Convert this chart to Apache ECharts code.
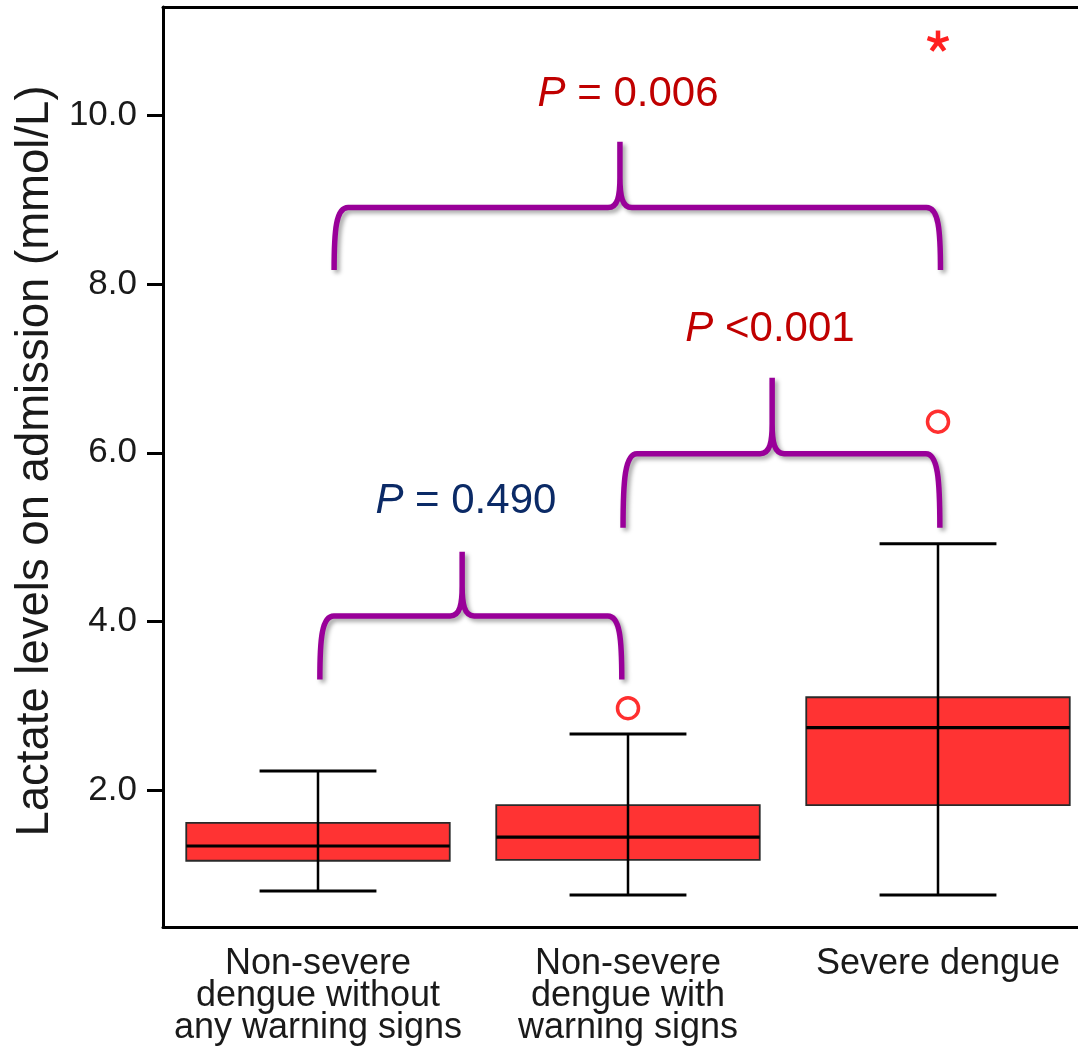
<!DOCTYPE html>
<html>
<head>
<meta charset="utf-8">
<script src="https://cdn.jsdelivr.net/npm/echarts@6/dist/echarts.min.js"></script>
<style>html,body{margin:0;padding:0;background:#fff}#c{width:1078px;height:1051px}</style>
</head>
<body>
<div id="c"></div>
<script>
// ---- data ----
const categories = ['Non-severe\ndengue without\nany warning signs', 'Non-severe\ndengue with\nwarning signs', 'Severe dengue'];
const boxLow    = [0.80, 0.754, 0.754];
const boxQ1     = [1.16, 1.17, 1.82];
const boxMedian = [1.335, 1.44, 2.74];
const boxQ3     = [1.61, 1.82, 3.10];
const boxHigh   = [2.225, 2.665, 4.92];
const outlierCat = [1, 2];
const outlierVal = [2.97, 6.37];
const extremeCat = [2];
const extremeVal = [10.88];
const yTicks = [2, 4, 6, 8, 10];
const yMin = 0.374;
const yMax = 11.29;
// brace annotations: [fromCat, toCat, peakCat, endValue, barValue, peakValue]
const braceFrom  = [0.006, 0.984, 0.052];
const braceTo    = [0.98, 2.006, 2.008];
const bracePeak  = [0.465, 1.465, 0.974];
const braceEnd   = [3.31, 5.11, 8.17];
const braceBar   = [4.065, 5.99, 8.91];
const braceTop   = [4.825, 6.89, 9.69];
// p-value labels
const pCat   = [0.477, 1.458, 1.0];
const pVal   = [5.42, 7.47, 10.25];
const pText  = [' = 0.490', ' <0.001', ' = 0.006'];
const pColor = ['#0b2a66', '#c00000', '#c00000'];

const FONT = "'Liberation Sans', Arial, Helvetica, sans-serif";

const boxData = categories.map((c, i) => [i, boxLow[i], boxQ1[i], boxMedian[i], boxQ3[i], boxHigh[i]]);
const outlierData = outlierCat.map((c, i) => [c, outlierVal[i]]);
const extremeData = extremeCat.map((c, i) => [c, extremeVal[i]]);
const braceData = braceFrom.map((f, i) => [f, braceTo[i], bracePeak[i], braceEnd[i], braceBar[i], braceTop[i]]);
const pData = pCat.map((c, i) => [c, pVal[i], i]);

function catX(api, frac, val) {
  const base = api.coord([0, val]);
  const band = api.size([1, 0])[0];
  return base[0] + frac * band;
}

const chart = echarts.init(document.getElementById('c'), null, {renderer: 'canvas'});
chart.setOption({
  backgroundColor: '#fff',
  animation: false,
  grid: {left: 163, right: -15, top: 7, bottom: 124, outerBoundsMode: 'none', containLabel: false},
  xAxis: [{
    type: 'category',
    data: categories,
    position: 'bottom',
    axisLine: {onZero: false, lineStyle: {color: '#000', width: 3}},
    axisTick: {alignWithLabel: true, length: 18, lineStyle: {color: '#000', width: 3}},
    axisLabel: {margin: 21, fontSize: 36, lineHeight: 32, color: '#1a1a1a', fontFamily: FONT, interval: 0, align: 'center'},
    splitLine: {show: false}
  }, {
    type: 'category',
    data: categories,
    position: 'top',
    axisLine: {onZero: false, lineStyle: {color: '#000', width: 3}},
    axisTick: {show: false},
    axisLabel: {show: false},
    splitLine: {show: false}
  }],
  yAxis: {
    type: 'value',
    min: yMin,
    max: yMax,
    name: 'Lactate levels on admission (mmol/L)',
    nameLocation: 'middle',
    nameGap: 99,
    nameTextStyle: {fontSize: 45.5, color: '#1a1a1a', fontFamily: FONT, padding: [0, 0, 0, 12]},
    axisLine: {show: true, onZero: false, lineStyle: {color: '#000', width: 3}},
    axisTick: {show: true, customValues: yTicks, length: 16, lineStyle: {color: '#000', width: 3}},
    axisLabel: {customValues: yTicks, margin: 26, fontSize: 35, color: '#1a1a1a', fontFamily: FONT,
      formatter: v => Number(v).toFixed(1)},
    splitLine: {show: false}
  },
  series: [{
    type: 'custom',
    data: boxData,
    z: 3,
    renderItem: function (params, api) {
      const x = api.value(0);
      const band = api.size([1, 0])[0];
      const pLow = api.coord([x, api.value(1)]);
      const pQ1 = api.coord([x, api.value(2)]);
      const pMed = api.coord([x, api.value(3)]);
      const pQ3 = api.coord([x, api.value(4)]);
      const pHigh = api.coord([x, api.value(5)]);
      const bw = band * 0.85;
      const cw = band * 0.377;
      const cx = pLow[0];
      return {
        type: 'group',
        children: [
          {type: 'rect', shape: {x: cx - bw / 2, y: pQ3[1], width: bw, height: pQ1[1] - pQ3[1]},
            style: {fill: '#ff3333', stroke: '#2a2a2a', lineWidth: 1.8}},
          {type: 'line', shape: {x1: cx, y1: pLow[1], x2: cx, y2: pHigh[1]}, style: {stroke: '#000', lineWidth: 2.5}},
          {type: 'line', shape: {x1: cx - cw / 2, y1: pLow[1], x2: cx + cw / 2, y2: pLow[1]}, style: {stroke: '#000', lineWidth: 3}},
          {type: 'line', shape: {x1: cx - cw / 2, y1: pHigh[1], x2: cx + cw / 2, y2: pHigh[1]}, style: {stroke: '#000', lineWidth: 3}},
          {type: 'line', shape: {x1: cx - bw / 2, y1: pMed[1], x2: cx + bw / 2, y2: pMed[1]}, style: {stroke: '#000', lineWidth: 3.2}}
        ]
      };
    }
  }, {
    type: 'scatter',
    data: outlierData,
    symbol: 'circle',
    symbolSize: 21,
    z: 4,
    itemStyle: {color: '#ffffff', borderColor: '#ff2f2f', borderWidth: 3.5, opacity: 1}
  }, {
    type: 'custom',
    data: extremeData,
    z: 4,
    renderItem: function (params, api) {
      const p = api.coord([api.value(0), api.value(1)]);
      const r = 11;
      const children = [];
      for (let k = 0; k < 5; k++) {
        const a = (-90 + k * 72) * Math.PI / 180;
        children.push({type: 'line', shape: {x1: p[0], y1: p[1], x2: p[0] + r * Math.cos(a), y2: p[1] + r * Math.sin(a)},
          style: {stroke: '#ff2020', lineWidth: 4.5, lineCap: 'butt'}});
      }
      return {type: 'group', children: children};
    }
  }, {
    type: 'custom',
    data: braceData,
    z: 5,
    renderItem: function (params, api) {
      const L = catX(api, api.value(0), api.value(3));
      const R = catX(api, api.value(1), api.value(3));
      const P = catX(api, api.value(2), api.value(3));
      const Yb = api.coord([0, api.value(3)])[1];
      const Yh = api.coord([0, api.value(4)])[1];
      const Yp = api.coord([0, api.value(5)])[1];
      const bend = (Yb - Yh) * 0.35;
      const d = [
        'M', L, Yb,
        'C', L, Yh + bend, L + 2, Yh, L + 14, Yh,
        'L', P - 12, Yh,
        'C', P - 2, Yh, P, Yh - 12, P, Yh - 30,
        'L', P, Yp,
        'M', P, Yh - 30,
        'C', P, Yh - 12, P + 2, Yh, P + 12, Yh,
        'L', R - 14, Yh,
        'C', R - 2, Yh, R, Yh + bend, R, Yb
      ].join(' ');
      return {
        type: 'path',
        shape: {pathData: d},
        style: {fill: null, stroke: '#990099', lineWidth: 5.5, lineJoin: 'round',
          shadowColor: 'rgba(0,0,0,0.35)', shadowBlur: 4, shadowOffsetX: 3, shadowOffsetY: 3}
      };
    }
  }, {
    type: 'custom',
    data: pData,
    z: 6,
    renderItem: function (params, api) {
      const x = catX(api, api.value(0), api.value(1));
      const y = api.coord([0, api.value(1)])[1];
      const idx = api.value(2);
      return {
        type: 'text',
        x: x, y: y,
        style: {
          text: '{i|P}{n|' + pText[idx] + '}',
          align: 'center', verticalAlign: 'middle',
          rich: {
            i: {fontStyle: 'italic', fontSize: 42, fontFamily: FONT, fill: pColor[idx], color: pColor[idx]},
            n: {fontSize: 42, fontFamily: FONT, fill: pColor[idx], color: pColor[idx]}
          }
        }
      };
    }
  }]
});
</script>
</body>
</html>
